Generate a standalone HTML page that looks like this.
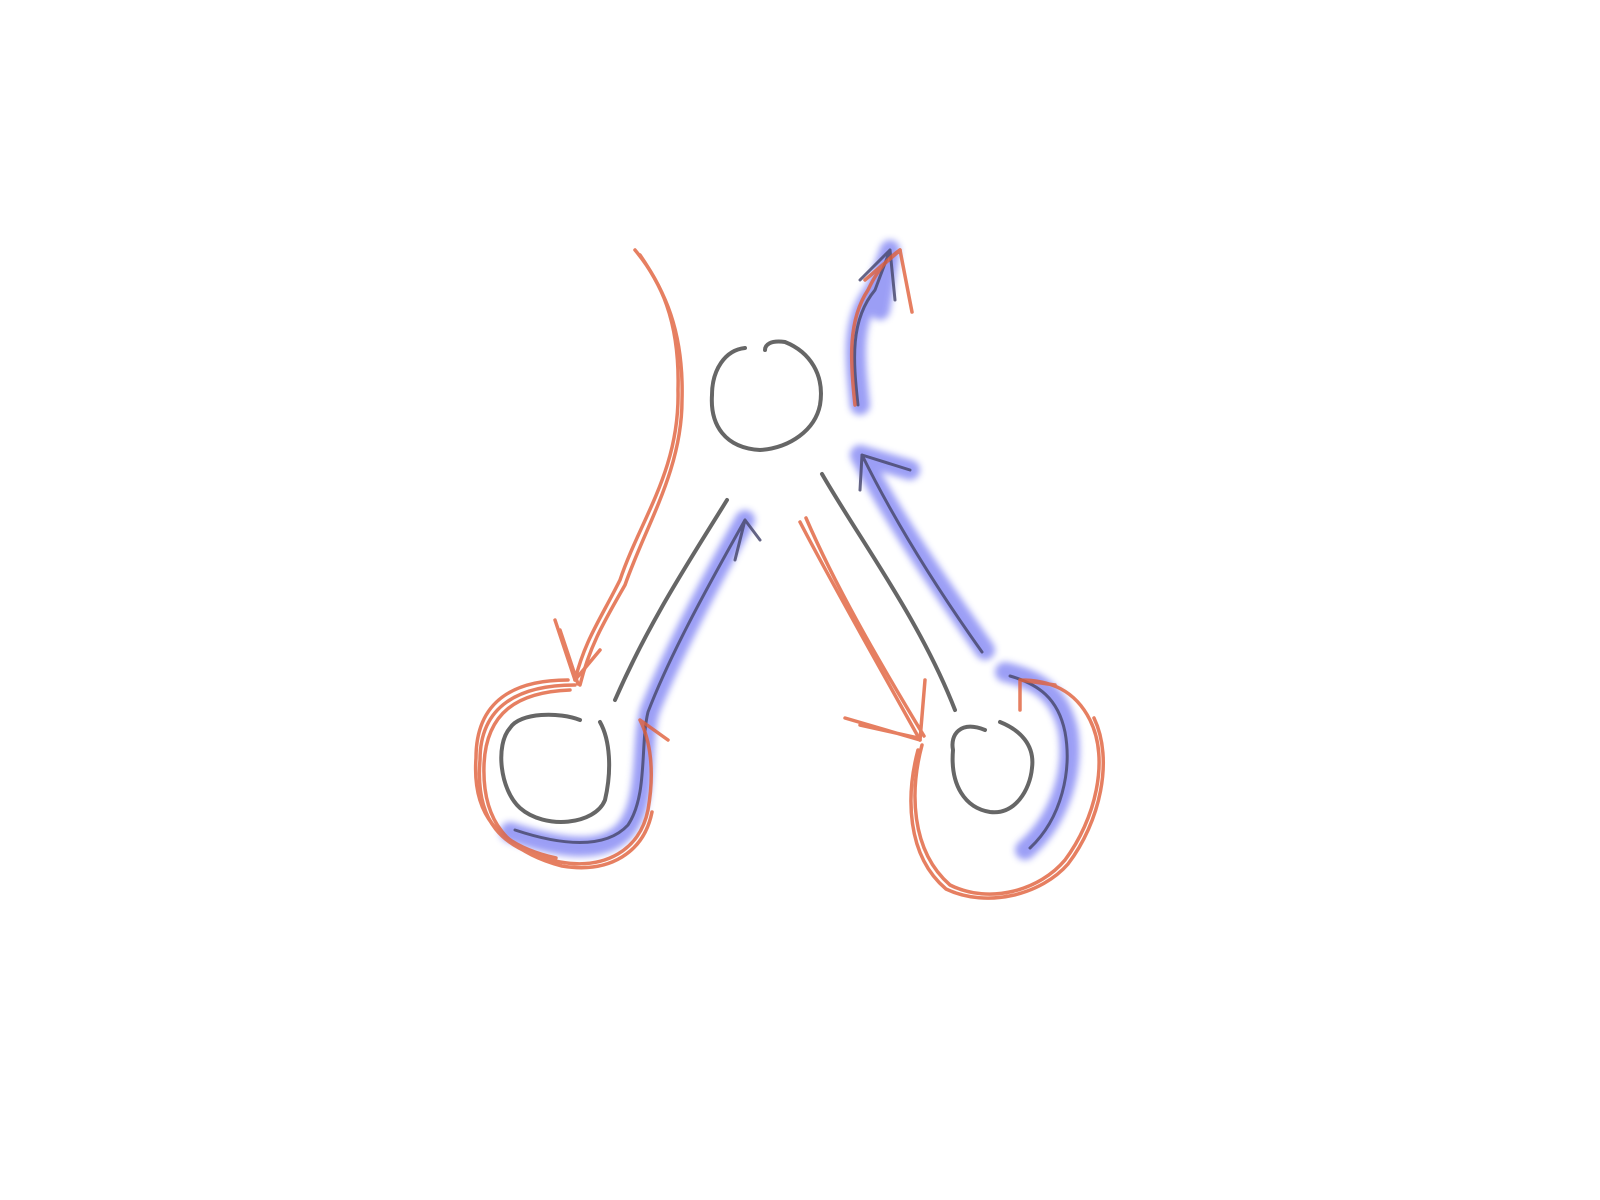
<!DOCTYPE html>
<html><head><meta charset="utf-8">
<style>html,body{margin:0;padding:0;background:#fff}svg{display:block}</style>
</head><body>
<svg width="1600" height="1200" viewBox="0 0 1600 1200">
<defs>
<filter id="blur" x="-20%" y="-20%" width="140%" height="140%"><feGaussianBlur stdDeviation="3.5"/></filter>
</defs>
<rect width="1600" height="1200" fill="#fff"/>
<g fill="none" stroke-linecap="round" stroke-linejoin="round">
<g stroke="#5a5ef0" stroke-width="20" opacity="0.6" filter="url(#blur)">
<path d="M510 832 C550 845 600 858 625 830 C650 800 640 740 650 710 C670 660 700 600 745 520"/>
<path d="M1025 850 C1060 820 1075 770 1068 730 C1060 695 1040 680 1005 672"/>
<path d="M985 650 C950 600 900 530 860 455 L910 470"/>
<path d="M860 405 C855 360 850 320 875 290 L890 250 L880 310"/>
</g>
<g stroke="#666" stroke-width="4">
<path d="M745 348 C725 350 712 370 712 395 C710 425 725 448 760 450 C790 448 815 430 820 405 C825 375 810 352 785 342 C770 340 765 345 765 350"/>
<path d="M580 720 C560 712 520 712 510 728 C495 745 500 790 520 808 C545 830 595 825 605 800 C612 770 610 740 600 722"/>
<path d="M985 730 C960 720 950 735 953 750 C950 785 965 808 990 812 C1015 815 1030 790 1032 768 C1035 745 1020 730 1000 722"/>
<path d="M727 500 C690 560 650 620 615 700"/>
<path d="M822 474 C860 540 920 620 955 710"/>
</g>
<g stroke="#4a4a70" stroke-width="3" opacity="0.85">
<path d="M515 830 C560 845 605 850 628 825 C648 795 640 745 648 712 C668 660 700 600 745 520 M745 520 L735 560 M745 520 L760 540"/>
<path d="M1030 848 C1062 818 1072 770 1065 732 C1058 698 1038 684 1010 676"/>
<path d="M982 652 C945 600 898 528 862 455 L910 470 M862 455 L860 490"/>
<path d="M858 405 C853 360 850 320 875 290 L890 250 M890 250 L860 280 M890 250 L895 300"/>
</g>
<g stroke="#e0603a" stroke-width="3.5" opacity="0.8">
<g>
<path d="M635 250 C660 280 680 320 678 390 C680 470 640 520 620 580 C600 620 585 640 575 680"/>
<path d="M640 255 C664 290 684 330 682 400 C682 470 646 525 625 585 C604 622 590 645 580 685"/>
<path d="M575 680 L555 620 M575 680 L600 650 M578 684 L560 630"/>
</g>
<g>
<path d="M575 685 C520 685 480 705 480 760 C475 820 500 850 560 862 C605 870 640 850 648 810 C655 770 650 740 640 720 L668 740"/>
<path d="M570 690 C518 692 486 712 484 765 C482 822 508 852 562 866 C610 874 644 852 652 812"/>
<path d="M568 680 C515 680 476 700 476 758 C472 815 498 845 556 858"/>
</g>
<g>
<path d="M800 522 C830 580 870 650 920 740"/>
<path d="M806 518 C835 585 875 655 924 736"/>
<path d="M920 740 L845 718 M920 740 L925 680 M918 738 L860 725"/>
</g>
<g>
<path d="M922 745 C910 790 910 850 950 885 C990 905 1040 890 1065 860 C1095 820 1110 760 1090 720 C1075 690 1050 680 1020 680 L1020 710 M1020 680 L1055 685"/>
<path d="M918 750 C906 795 906 855 946 889 C988 909 1042 894 1068 864 C1100 822 1114 760 1094 718"/>
</g>
<g>
<path d="M855 405 C850 360 848 320 868 290 C875 275 885 260 900 250"/>
<path d="M900 250 L865 280 M900 250 L912 312 M898 252 L875 272"/>
</g>
</g>
</g>
</svg>
</body></html>
